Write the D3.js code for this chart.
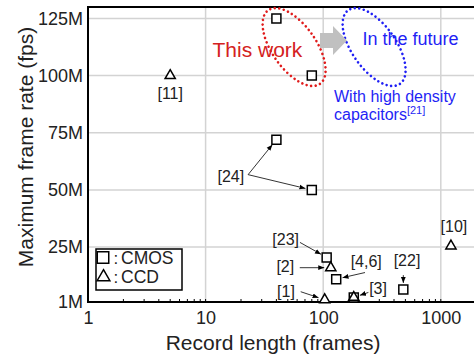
<!DOCTYPE html>
<html>
<head>
<meta charset="utf-8">
<script src="https://cdnjs.cloudflare.com/ajax/libs/d3/7.8.5/d3.min.js"></script>
<style>
body { margin: 0; background: #fff; }
svg { display: block; font-family: "Liberation Sans", Arial, sans-serif; }
.grid line { stroke: #d3d3d3; stroke-width: 1.5; }
.mark { fill: #fff; stroke: #000; stroke-width: 1.5; }
.note { font-size: 16px; fill: #222; text-anchor: middle; }
.lead { stroke: #000; stroke-width: 0.8; fill: none; }
.axis text { font-size: 18px; fill: #222; }
</style>
</head>
<body>
<div id="chart"></div>
<script>
// values: record length (frames), max rate (Mfps)
var cmosLength = [40, 80, 40, 80, 107, 129, 182, 480];
var cmosRate   = [125, 100, 72, 50, 20.5, 11, 3, 6.5];
var ccdLength  = [5, 116, 103, 182, 1220];
var ccdRate    = [100, 16, 2, 3, 25.5];
var yTicks = [1, 25, 50, 75, 100, 125];
var xTicks = [1, 10, 100, 1000];

// reference labels and the point(s) each one belongs to
var noteText = ["[11]", "[24]", "[23]", "[2]", "[1]", "[4,6]", "[22]", "[3]", "[10]"];
var noteRef  = [[5, 100], [80, 50], [107, 20.5], [116, 16], [103, 2], [129, 11], [480, 6.5], [182, 3], [1220, 25.5]];
var noteTo   = [[], [[40, 72], [80, 50]], [[107, 20.5]], [[116, 16]], [[103, 2]], [[129, 11]], [[480, 6.5]], [[182, 3]], []];

// label placement, px offsets from the ref point (label, arrow start)
var noteLayout = [
  {dx: 0, dy: 23},
  {dx: -81, dy: -8, sx: -63.7, sy: -15.3},
  {dx: -41, dy: -12, sx: -26.7, sy: -15},
  {dx: -45.5, dy: 4.3, sx: -31, sy: 0},
  {dx: -38.7, dy: -3, sx: -24, sy: -8},
  {dx: 30, dy: -12, sx: 28.8, sy: -6.6},
  {dx: 3.7, dy: -23, sx: 0, sy: -14.3},
  {dx: 24.3, dy: -3.7, sx: 14.6, sy: -5},
  {dx: 3, dy: -13.5}
];

var width = 474, height = 356,
    margin = {top: 7, left: 88, bottom: 54};

var svg = d3.select("#chart").append("svg")
  .attr("width", width)
  .attr("height", height);

svg.append("rect").attr("width", width).attr("height", height).attr("fill", "#fff");

var x = d3.scaleLog().domain([1, 2000]).range([margin.left, margin.left + 117.6 * Math.log10(2000)]);
var y = d3.scaleLinear().domain([1, 130]).range([height - margin.bottom, margin.top]);

// grid
var grid = svg.append("g").attr("class", "grid");
grid.selectAll(".gy").data(yTicks.slice(1)).enter().append("line")
  .attr("x1", margin.left).attr("x2", width)
  .attr("y1", function(d) { return y(d); }).attr("y2", function(d) { return y(d); });
grid.selectAll(".gx").data(xTicks.slice(1)).enter().append("line")
  .attr("y1", margin.top).attr("y2", y(1))
  .attr("x1", function(d) { return x(d); }).attr("x2", function(d) { return x(d); });

// minor ticks inside the bottom axis
var minor = [];
[1, 10, 100, 1000].forEach(function(b) {
  for (var k = 1; k < 10; k++) if (b * k <= 2000) minor.push(b * k);
});
svg.append("g").selectAll("line").data(minor).enter().append("line")
  .attr("x1", function(d) { return x(d); }).attr("x2", function(d) { return x(d); })
  .attr("y1", y(1)).attr("y2", y(1) - 3)
  .attr("stroke", "#000").attr("stroke-width", 1);

// axes
svg.append("g").attr("class", "axis")
  .attr("transform", "translate(" + margin.left + ",0)")
  .call(d3.axisLeft(y).tickValues(yTicks).tickSize(0).tickPadding(5)
    .tickFormat(function(d) { return d + "M"; }))
  .call(function(g) { g.select(".domain").remove(); });

svg.append("g").attr("class", "axis")
  .attr("transform", "translate(0," + y(1) + ")")
  .call(d3.axisBottom(x).tickValues(xTicks).tickSize(0).tickPadding(9)
    .tickFormat(d3.format("d")))
  .call(function(g) { g.select(".domain").remove(); });

// frame: left, bottom and top lines
svg.append("line").attr("x1", margin.left).attr("x2", margin.left)
  .attr("y1", margin.top).attr("y2", y(1) + 1).attr("stroke", "#000").attr("stroke-width", 2);
svg.append("line").attr("x1", margin.left - 1).attr("x2", width)
  .attr("y1", y(1)).attr("y2", y(1)).attr("stroke", "#000").attr("stroke-width", 2);
svg.append("line").attr("x1", margin.left - 1).attr("x2", width)
  .attr("y1", margin.top).attr("y2", margin.top).attr("stroke", "#000").attr("stroke-width", 2);

// axis titles
svg.append("text")
  .attr("transform", "translate(33,147) rotate(-90)")
  .attr("text-anchor", "middle").attr("font-size", 21).attr("fill", "#222")
  .text("Maximum frame rate (fps)");
svg.append("text")
  .attr("x", 273).attr("y", 350)
  .attr("text-anchor", "middle").attr("font-size", 21).attr("fill", "#222")
  .text("Record length (frames)");

// arrowhead
svg.append("defs").append("marker")
  .attr("id", "head").attr("viewBox", "0 0 6 6")
  .attr("refX", 6).attr("refY", 3)
  .attr("markerWidth", 6).attr("markerHeight", 6)
  .attr("markerUnits", "userSpaceOnUse").attr("orient", "auto")
  .append("path").attr("d", "M0,0.6L6,3L0,5.4z").attr("fill", "#000");

// annotations
noteText.forEach(function(t, i) {
  var L = noteLayout[i],
      px = x(noteRef[i][0]), py = y(noteRef[i][1]);
  svg.append("text").attr("class", "note")
    .attr("x", px + L.dx).attr("y", py + L.dy).text(t);
  noteTo[i].forEach(function(p) {
    var sx = px + L.sx, sy = py + L.sy,
        tx = x(p[0]), ty = y(p[1]),
        len = Math.hypot(tx - sx, ty - sy), gap = 6.5;
    svg.append("line").attr("class", "lead")
      .attr("x1", sx).attr("y1", sy)
      .attr("x2", tx - (tx - sx) / len * gap)
      .attr("y2", ty - (ty - sy) / len * gap)
      .attr("marker-end", "url(#head)");
  });
});

// markers
var square = d3.symbol().type(d3.symbolSquare).size(81),
    tri = d3.symbol().type(d3.symbolTriangle).size(45);
svg.append("g").selectAll("path").data(cmosLength).enter().append("path")
  .attr("class", "mark").attr("d", square)
  .attr("transform", function(d, i) { return "translate(" + x(d) + "," + y(cmosRate[i]) + ")"; });
svg.append("g").selectAll("path").data(ccdLength).enter().append("path")
  .attr("class", "mark").attr("d", tri)
  .attr("transform", function(d, i) { return "translate(" + x(d) + "," + y(ccdRate[i]) + ")"; });

// legend
var lg = svg.append("g");
lg.append("rect").attr("x", 96).attr("y", 249).attr("width", 86).attr("height", 41)
  .attr("fill", "#fff").attr("stroke", "#000").attr("stroke-width", 1.5);
lg.append("path").attr("class", "mark").attr("d", d3.symbol().type(d3.symbolSquare).size(132))
  .attr("transform", "translate(103,257.5)");
lg.append("path").attr("class", "mark").attr("d", d3.symbol().type(d3.symbolTriangle).size(70))
  .attr("transform", "translate(103.5,277)");
[["CMOS", 264], ["CCD", 283]].forEach(function(r) {
  lg.append("text").attr("x", 113.5).attr("y", r[1]).attr("font-size", 17).attr("fill", "#222").text(":");
  lg.append("text").attr("x", 121).attr("y", r[1]).attr("font-size", 17.5).attr("fill", "#222").text(r[0]);
});

// "this work" and "in the future" call-outs
var cx = (x(cmosLength[0]) + x(cmosLength[1])) / 2,
    cy = (y(cmosRate[0]) + y(cmosRate[1])) / 2;
[["#e01b1b", 0], ["#1f1ff5", 80]].forEach(function(e) {
  svg.append("ellipse")
    .attr("rx", 45).attr("ry", 22)
    .attr("transform", "translate(" + (cx + e[1]) + "," + cy + ") rotate(55)")
    .attr("fill", "none").attr("stroke", e[0]).attr("stroke-width", 2.6)
    .attr("stroke-linecap", "round").attr("stroke-dasharray", "0 4.6");
});
svg.append("path")
  .attr("d", "M320,33H333V26L347,40.5L333,55V48H320Z")
  .attr("fill", "#c0c0c0");

svg.append("text").attr("x", 212.5).attr("y", 57).attr("font-size", 21)
  .attr("fill", "#d42121").text("This work");
svg.append("text").attr("x", 362.5).attr("y", 45).attr("font-size", 18)
  .attr("fill", "#1f1ff5").text("In the future");
svg.append("text").attr("x", 334).attr("y", 101.5).attr("font-size", 16)
  .attr("fill", "#1f1ff5").text("With high density");
var cap = svg.append("text").attr("x", 334).attr("y", 120).attr("font-size", 16)
  .attr("fill", "#1f1ff5");
cap.append("tspan").text("capacitors");
cap.append("tspan").attr("dy", -6).attr("font-size", 11).text("[21]");
</script>
</body>
</html>
